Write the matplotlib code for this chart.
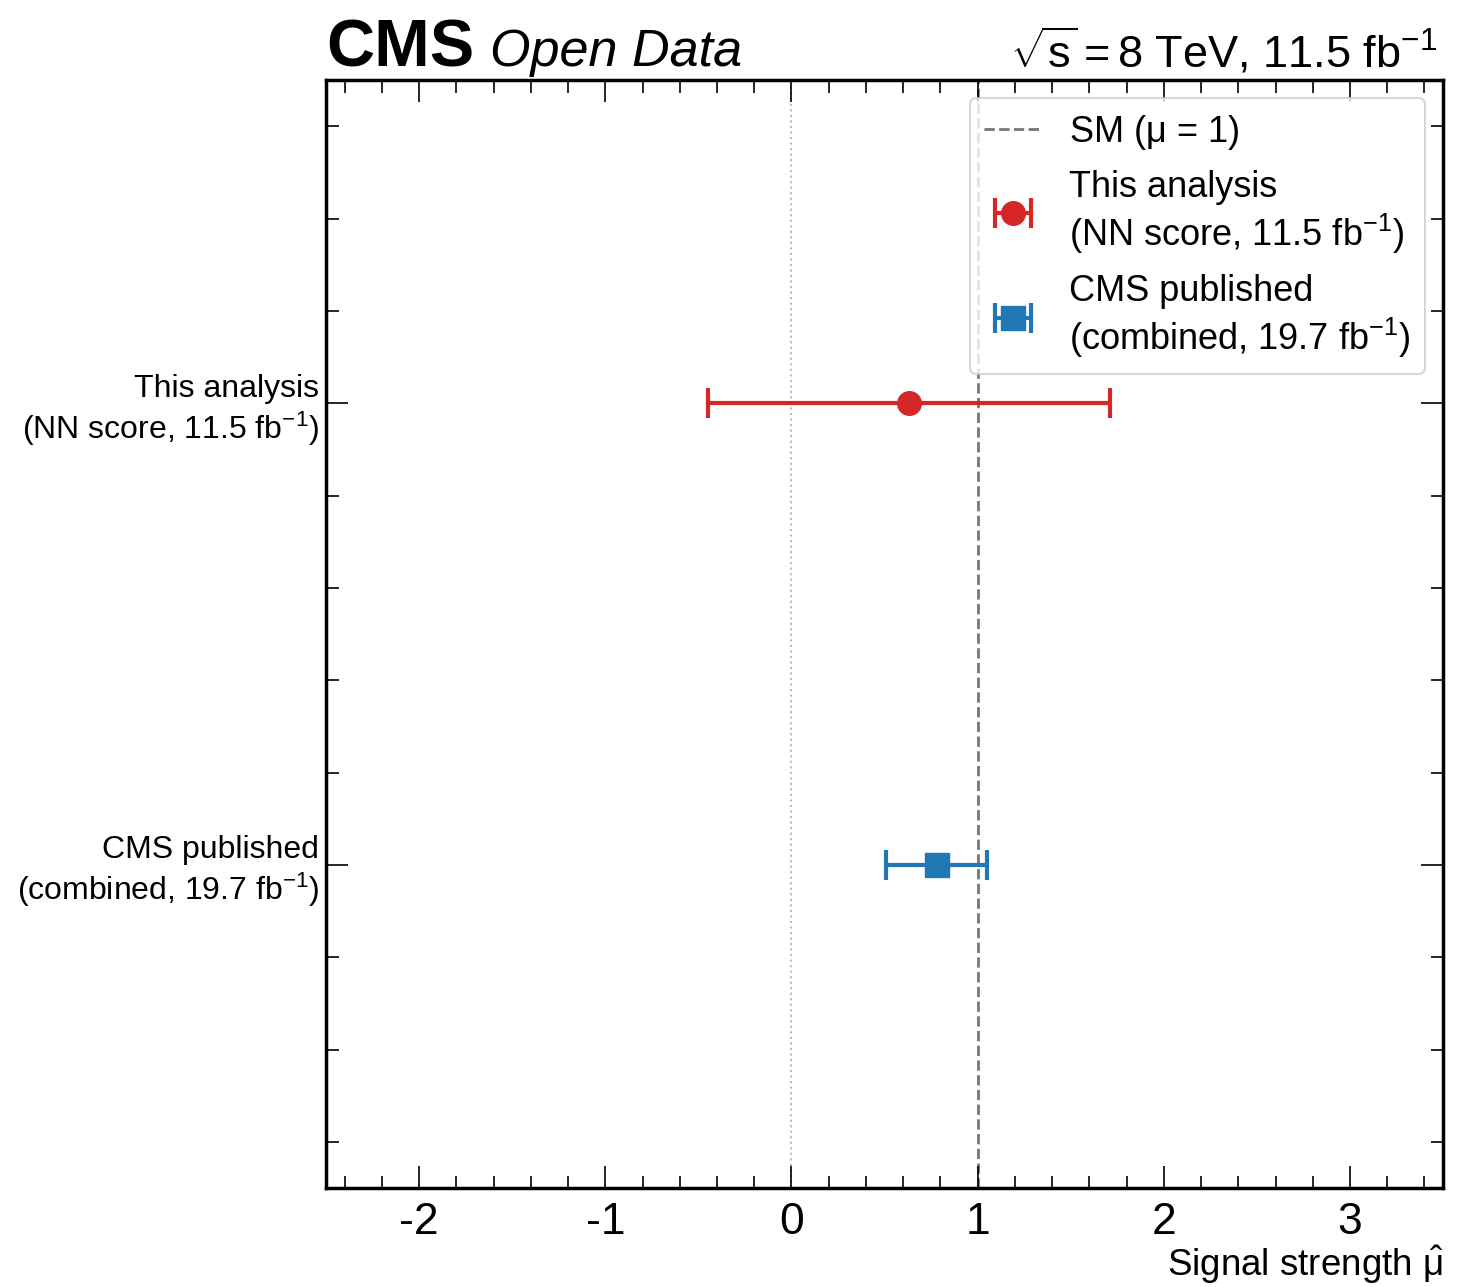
import matplotlib
matplotlib.use("Agg")
import matplotlib.pyplot as plt
from matplotlib.ticker import MultipleLocator

# CMS-ish style
plt.rcParams['font.family'] = ['Liberation Sans', 'DejaVu Sans']
plt.rcParams['mathtext.fontset'] = 'custom'
plt.rcParams['mathtext.rm'] = 'Liberation Sans'
plt.rcParams['mathtext.it'] = 'Liberation Sans:italic'
plt.rcParams['mathtext.bf'] = 'Liberation Sans:bold'
plt.rcParams['mathtext.sf'] = 'Liberation Sans'
plt.rcParams['mathtext.default'] = 'regular'
plt.rcParams['axes.unicode_minus'] = False

# data
labels = ["CMS published\n(combined, 19.7 fb$^{-1}$)",
          "This analysis\n(NN score, 11.5 fb$^{-1}$)"]
legend_labels = ["This analysis\n(NN score, 11.5 fb$^{-1}$)",
                 "CMS published\n(combined, 19.7 fb$^{-1}$)"]
mu = [0.78, 0.63]
err_lo = [0.27, 1.08]
err_hi = [0.27, 1.08]
ypos = [0, 1]
colors = ['#1f77b4', '#d62728']
markers = ['s', 'o']
sm_value = 1.0

fig = plt.figure(figsize=(14.64, 12.87), dpi=100)
ax = fig.add_axes([0.2227, 0.0769, 0.7630, 0.8609])

ax.axvline(0, color='#bbbbbb', ls=':', lw=1.5, zorder=1)
sm_line = ax.axvline(sm_value, color='#777777', ls='--', lw=2, zorder=1)

handles = {}
for i in range(len(mu)):
    h = ax.errorbar(mu[i], ypos[i], xerr=[[err_lo[i]], [err_hi[i]]],
                    fmt=markers[i], color=colors[i], ms=17, lw=3,
                    capsize=11, capthick=3, zorder=3)
    handles[i] = h

ax.set_xlim(-2.5, 3.5)
ax.set_ylim(-0.7, 1.7)
ax.xaxis.set_major_locator(MultipleLocator(1))
ax.xaxis.set_minor_locator(MultipleLocator(0.2))
ax.set_yticks(ypos)
ax.set_yticklabels(labels, ha='right', fontsize=23)
ax.yaxis.set_minor_locator(MultipleLocator(0.2))

ax.tick_params(which='both', direction='in', top=True, right=True)
ax.tick_params(which='major', length=16, width=1.2)
ax.tick_params(which='minor', length=9, width=1.2)
ax.tick_params(axis='x', labelsize=32, pad=10)
ax.tick_params(axis='y', pad=5)
for s in ax.spines.values():
    s.set_linewidth(2.5)

ax.set_xlabel("Signal strength $\\hat{\\mu}$", fontsize=26.5, loc='right',
              labelpad=1)

leg = ax.legend([sm_line, handles[1], handles[0]],
                ["SM ($\\mu$ = 1)"] + legend_labels,
                loc='upper right', fontsize=26, frameon=True,
                handlelength=1.6, handletextpad=0.75, labelspacing=0.5)
leg.get_frame().set_edgecolor('#cccccc')
leg.get_frame().set_linewidth(1.5)

# CMS label
ax.text(0.0, 1.0126, "CMS", transform=ax.transAxes, fontsize=48,
        fontweight='bold', va='baseline', ha='left')
ax.text(0.1468, 1.0126, "Open Data", transform=ax.transAxes, fontsize=37.5,
        fontstyle='italic', va='baseline', ha='left')
ax.text(0.995, 1.011, "$\\sqrt{s} = 8$ TeV, 11.5 fb$^{-1}$",
        transform=ax.transAxes, fontsize=32.5, va='baseline', ha='right')

fig.savefig("out.png", dpi=100)
